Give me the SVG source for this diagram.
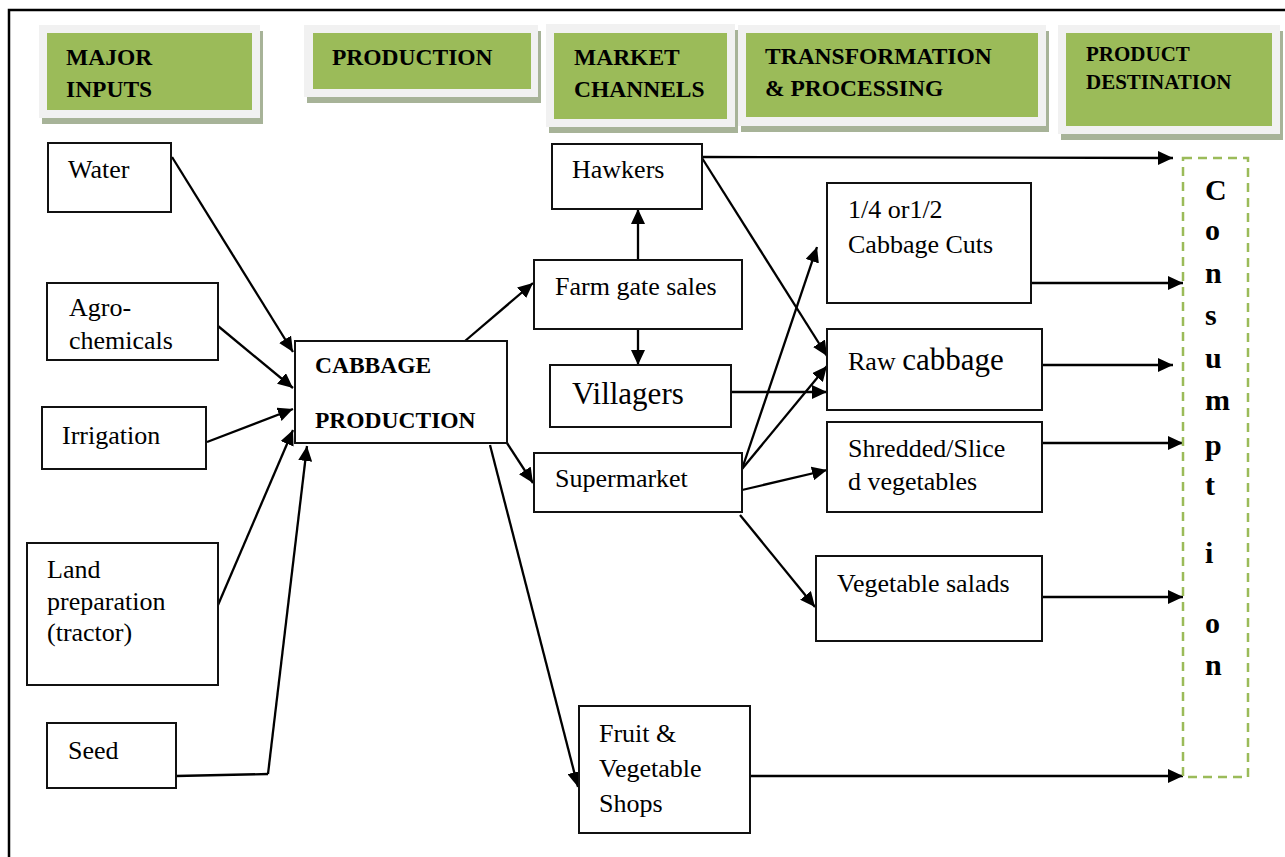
<svg xmlns="http://www.w3.org/2000/svg" width="1285" height="857" viewBox="0 0 1285 857">
  <style>
    .frame { fill: none; stroke: #000; stroke-width: 2.5; }
    .hshadow { fill: #a7b398; }
    .hout { fill: #f1f1f1; }
    .hin { fill: #9bbb59; }
    .htext { font-family: 'Liberation Serif', 'Times New Roman', serif; font-weight: bold; font-size: 23.5px; fill: #000; }
    .box { fill: #fff; stroke: #111; stroke-width: 2; }
    .t { font-family: 'Liberation Serif', 'Times New Roman', serif; font-size: 26px; fill: #000; }
    .tb { font-family: 'Liberation Serif', 'Times New Roman', serif; font-weight: bold; font-size: 23.5px; fill: #000; }
    .cons { fill: none; stroke: #9bbb59; stroke-width: 2.5; stroke-dasharray: 9 6; }
    .ct { font-family: 'Liberation Serif', 'Times New Roman', serif; font-weight: bold; font-size: 30px; fill: #000; }
    .conn path { fill: none; stroke: #000; stroke-width: 2.3; marker-end: url(#arrow); }
    .conn path.plain { marker-end: none; }
  </style>
  <defs>
    <marker id="arrow" markerUnits="userSpaceOnUse" markerWidth="16" markerHeight="14" refX="15" refY="7" orient="auto">
      <path d="M0,0 L15,7 L0,14 z" fill="#000"/>
    </marker>
  </defs>

  <rect width="1285" height="857" fill="#fff"/>
  <!-- page frame -->
  <path class="frame" d="M9,857 L9,10 L1285,10"/>

  <!-- stage headers -->
  <g id="hdr-inputs">
    <rect class="hshadow" x="42" y="31" width="221" height="93"/>
    <rect class="hout" x="39" y="25" width="221" height="93"/>
    <rect class="hin" x="47" y="33" width="205" height="77"/>
    <text class="htext" x="66" y="65">MAJOR</text>
    <text class="htext" x="66" y="97">INPUTS</text>
  </g>
  <g id="hdr-production">
    <rect class="hshadow" x="307" y="31" width="234" height="72"/>
    <rect class="hout" x="304" y="25" width="234" height="72"/>
    <rect class="hin" x="313" y="33" width="218" height="56"/>
    <text class="htext" x="332" y="65">PRODUCTION</text>
  </g>
  <g id="hdr-market">
    <rect class="hshadow" x="549" y="30" width="189" height="103"/>
    <rect class="hout" x="546" y="24" width="189" height="103"/>
    <rect class="hin" x="554" y="33" width="173" height="86"/>
    <text class="htext" x="574" y="65">MARKET</text>
    <text class="htext" x="574" y="97">CHANNELS</text>
  </g>
  <g id="hdr-transformation">
    <rect class="hshadow" x="741" y="31" width="308" height="101"/>
    <rect class="hout" x="738" y="25" width="308" height="101"/>
    <rect class="hin" x="746" y="33" width="292" height="84"/>
    <text class="htext" x="765" y="64">TRANSFORMATION</text>
    <text class="htext" x="765" y="96">&amp; PROCESSING</text>
  </g>
  <g id="hdr-destination">
    <rect class="hshadow" x="1061" y="31" width="222" height="109"/>
    <rect class="hout" x="1058" y="25" width="222" height="109"/>
    <rect class="hin" x="1066" y="33" width="206" height="93"/>
    <text class="htext" x="1086" y="61" style="font-size:21px">PRODUCT</text>
    <text class="htext" x="1086" y="89" style="font-size:21px">DESTINATION</text>
  </g>

  <!-- connectors -->
  <g id="connectors" class="conn">
    <path d="M172,157 L293,352"/>
    <path d="M218,326 L293,388"/>
    <path d="M207,442 L293,409"/>
    <path d="M218,605 L293,430"/>
    <path class="plain" d="M176,776 L268,774"/>
    <path d="M268,774 L307,446"/>
    <path d="M465,341 L533,283"/>
    <path d="M507,443 L533,483"/>
    <path d="M490,445 L578,787"/>
    <path d="M638,260 L638,209"/>
    <path d="M638,329 L638,365"/>
    <path d="M702,157 L1173,158"/>
    <path d="M702,158 L827,356"/>
    <path d="M731,392 L827,392"/>
    <path d="M742,469 L817,247"/>
    <path d="M742,469 L827,366"/>
    <path d="M742,490 L827,470"/>
    <path d="M740,515 L815,607"/>
    <path d="M1031,283 L1183,283"/>
    <path d="M1042,365 L1173,365"/>
    <path d="M1042,443 L1183,443"/>
    <path d="M1042,597 L1183,597"/>
    <path d="M750,776 L1183,776"/>
  </g>

  <!-- inputs -->
  <g id="water">
    <rect class="box" x="48" y="143" width="123" height="69"/>
    <text class="t" x="68" y="178">Water</text>
  </g>
  <g id="agrochemicals">
    <rect class="box" x="47" y="283" width="171" height="77"/>
    <text class="t" x="69" y="316">Agro-</text>
    <text class="t" x="69" y="349">chemicals</text>
  </g>
  <g id="irrigation">
    <rect class="box" x="42" y="407" width="164" height="62"/>
    <text class="t" x="62" y="444">Irrigation</text>
  </g>
  <g id="land-preparation">
    <rect class="box" x="27" y="543" width="191" height="142"/>
    <text class="t" x="47" y="578">Land</text>
    <text class="t" x="47" y="610">preparation</text>
    <text class="t" x="47" y="641">(tractor)</text>
  </g>
  <g id="seed">
    <rect class="box" x="47" y="723" width="129" height="65"/>
    <text class="t" x="68" y="759">Seed</text>
  </g>

  <!-- production -->
  <g id="cabbage-production">
    <rect class="box" x="295" y="341" width="212" height="102"/>
    <text class="tb" x="315" y="373">CABBAGE</text>
    <text class="tb" x="315" y="428">PRODUCTION</text>
  </g>

  <!-- market channels -->
  <g id="hawkers">
    <rect class="box" x="552" y="144" width="150" height="65"/>
    <text class="t" x="572" y="178">Hawkers</text>
  </g>
  <g id="farm-gate-sales">
    <rect class="box" x="534" y="260" width="208" height="69"/>
    <text class="t" x="555" y="295">Farm gate sales</text>
  </g>
  <g id="villagers">
    <rect class="box" x="550" y="365" width="181" height="62"/>
    <text class="t" x="572" y="404" style="font-size:31px">Villagers</text>
  </g>
  <g id="supermarket">
    <rect class="box" x="534" y="453" width="208" height="59"/>
    <text class="t" x="555" y="487">Supermarket</text>
  </g>
  <g id="fruit-vegetable-shops">
    <rect class="box" x="579" y="706" width="171" height="127"/>
    <text class="t" x="599" y="742">Fruit &amp;</text>
    <text class="t" x="599" y="777">Vegetable</text>
    <text class="t" x="599" y="812">Shops</text>
  </g>

  <!-- transformation & processing -->
  <g id="cabbage-cuts">
    <rect class="box" x="827" y="183" width="204" height="120"/>
    <text class="t" x="848" y="218">1/4 or1/2</text>
    <text class="t" x="848" y="253">Cabbage Cuts</text>
  </g>
  <g id="raw-cabbage">
    <rect class="box" x="827" y="329" width="215" height="81"/>
    <text class="t" x="848" y="370">Raw <tspan style="font-size:31px">cabbage</tspan></text>
  </g>
  <g id="shredded-vegetables">
    <rect class="box" x="827" y="422" width="215" height="90"/>
    <text class="t" x="848" y="457">Shredded/Slice</text>
    <text class="t" x="848" y="490">d vegetables</text>
  </g>
  <g id="vegetable-salads">
    <rect class="box" x="816" y="556" width="226" height="85"/>
    <text class="t" x="837" y="592">Vegetable salads</text>
  </g>

  <!-- product destination -->
  <g id="consumption">
    <rect class="cons" x="1183" y="158" width="65" height="619"/>
    <text class="ct" x="1205" y="200">C</text>
    <text class="ct" x="1205" y="240">o</text>
    <text class="ct" x="1205" y="283">n</text>
    <text class="ct" x="1205" y="325">s</text>
    <text class="ct" x="1205" y="368">u</text>
    <text class="ct" x="1205" y="410">m</text>
    <text class="ct" x="1205" y="455">p</text>
    <text class="ct" x="1205" y="495">t</text>
    <text class="ct" x="1205" y="563">i</text>
    <text class="ct" x="1205" y="633">o</text>
    <text class="ct" x="1205" y="675">n</text>
  </g>
</svg>
